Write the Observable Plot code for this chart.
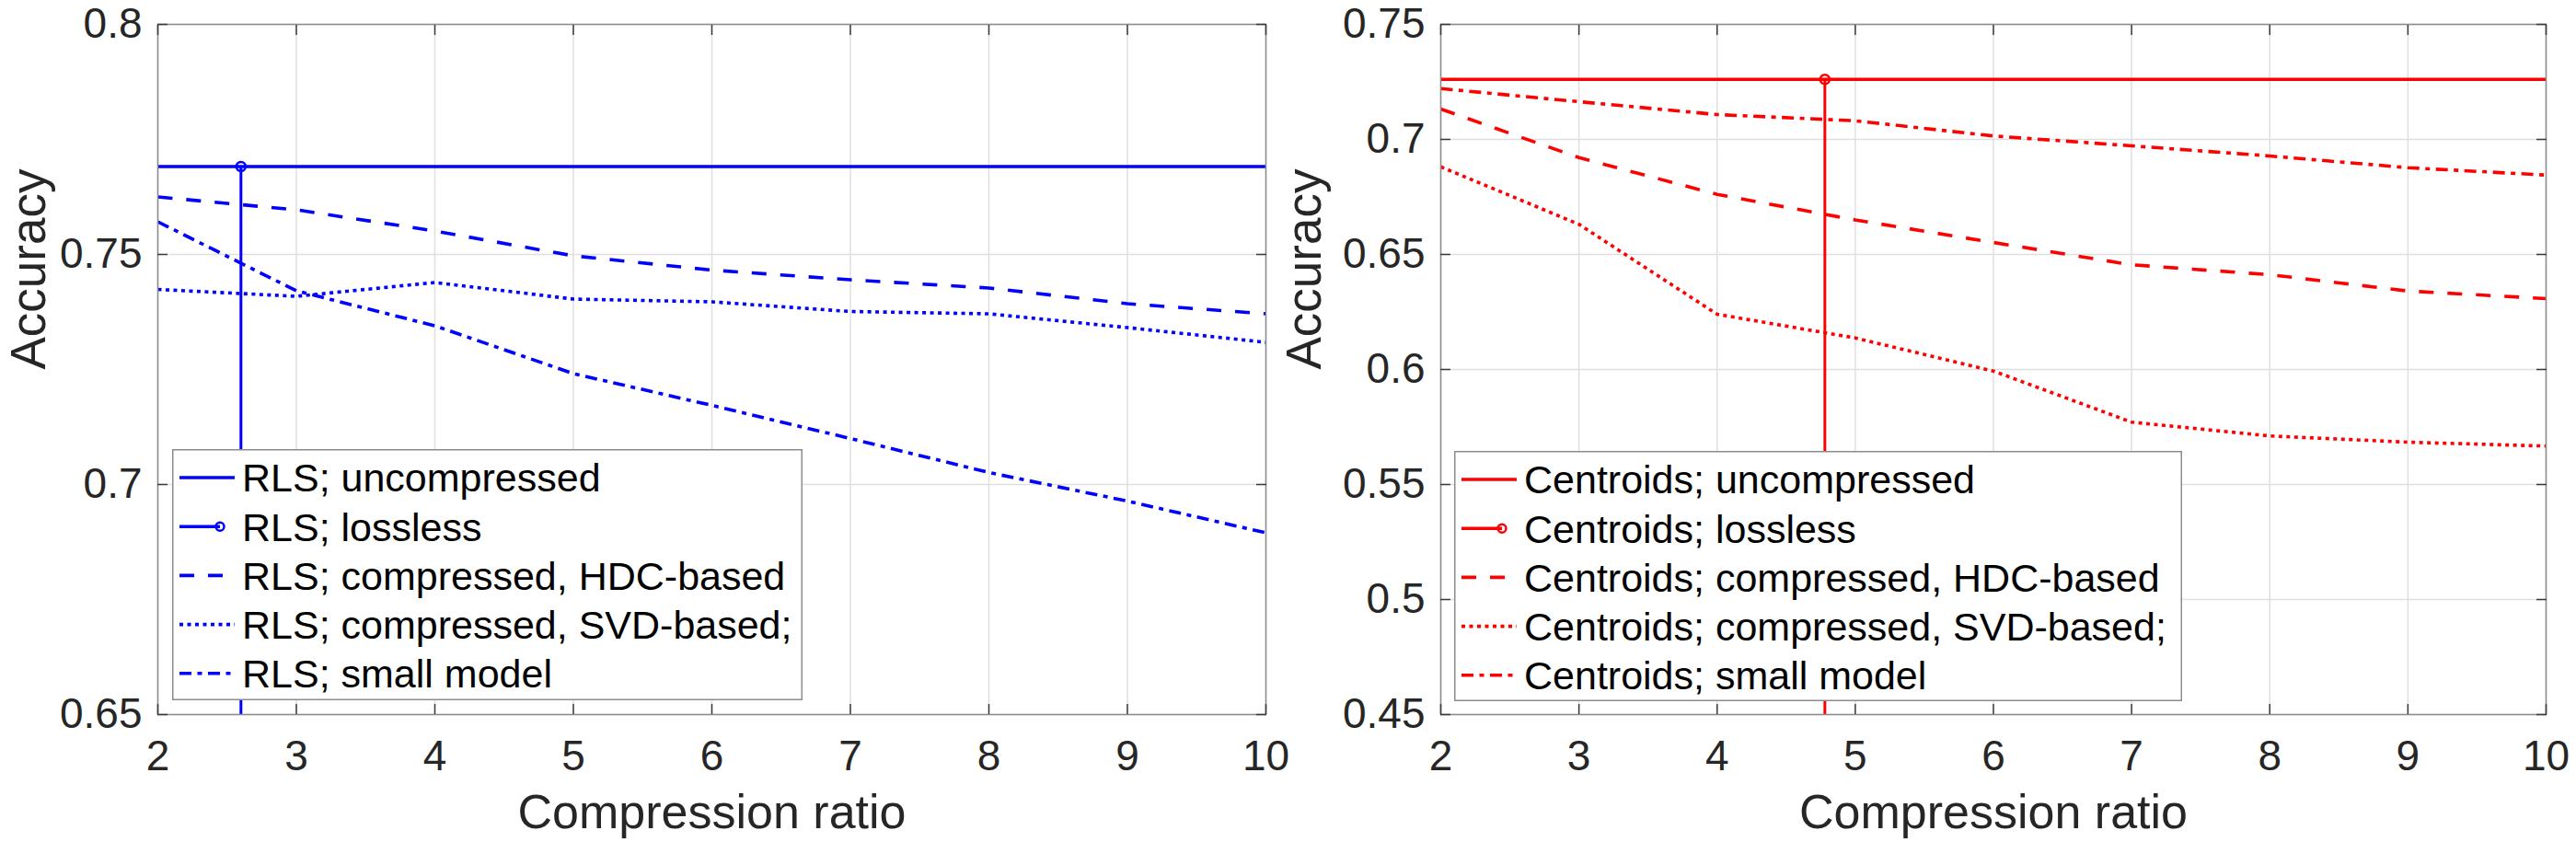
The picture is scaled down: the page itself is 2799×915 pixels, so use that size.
<!DOCTYPE html>
<html>
<head>
<meta charset="utf-8">
<script src="https://cdn.jsdelivr.net/npm/d3@7"></script>
<script src="https://cdn.jsdelivr.net/npm/@observablehq/plot@0.6"></script>
<style>
  html, body { margin: 0; padding: 0; background: white; }
  #wrap { position: relative; width: 2799px; height: 915px; overflow: hidden; }
  .panel { position: absolute; top: 0; }
  .legend { position: absolute; }
</style>
</head>
<body>
<div id="wrap"></div>
<script>
// ---------------- data ----------------
const ratios = [2, 3, 4, 5, 6, 7, 8, 9, 10];

// RLS (left panel)
const rlsUncompressed = 0.7691;
const rlsLosslessRatio = 2.6;
const rlsHDC   = [0.7625, 0.7597, 0.7551, 0.7497, 0.7466, 0.7445, 0.7427, 0.7393, 0.7371];
const rlsSVD   = [0.7424, 0.7409, 0.7439, 0.7403, 0.7397, 0.7376, 0.7371, 0.7341, 0.7309];
const rlsSmall = [0.7571, 0.7421, 0.7345, 0.7241, 0.7172, 0.7100, 0.7026, 0.6964, 0.6895];
const rlsYTicks = [0.65, 0.7, 0.75, 0.8];
const rlsYTickLabels = ["0.65", "0.7", "0.75", "0.8"];
const rlsLabels = ["RLS; uncompressed", "RLS; lossless", "RLS; compressed, HDC-based", "RLS; compressed, SVD-based;", "RLS; small model"];

// Centroids (right panel)
const centUncompressed = 0.7261;
const centLosslessRatio = 4.78;
const centHDC   = [0.7132, 0.6921, 0.6761, 0.6650, 0.6552, 0.6455, 0.6412, 0.6341, 0.6308];
const centSVD   = [0.6881, 0.6631, 0.6240, 0.6137, 0.5993, 0.5771, 0.5711, 0.5684, 0.5667];
const centSmall = [0.7221, 0.7164, 0.7108, 0.7081, 0.7015, 0.6972, 0.6928, 0.6877, 0.6845];
const centYTicks = [0.45, 0.5, 0.55, 0.6, 0.65, 0.7, 0.75];
const centYTickLabels = ["0.45", "0.5", "0.55", "0.6", "0.65", "0.7", "0.75"];
const centLabels = ["Centroids; uncompressed", "Centroids; lossless", "Centroids; compressed, HDC-based", "Centroids; compressed, SVD-based;", "Centroids; small model"];

const xTickLabels = ["2", "3", "4", "5", "6", "7", "8", "9", "10"];
const xLabel = "Compression ratio";
const yLabel = "Accuracy";

// ---------------- styles ----------------
const FONT = "'Liberation Sans', Arial, Helvetica, sans-serif";
const DASH = "16,15";
const DOT = "4,4.5";
const DASHDOT = "13,6.5,5,6.5";
const LW = 3.6;

function panel(opts) {
  const {width, marginLeft, marginRight, color, yTicks, yTickLabels, uncompressed, losslessRatio, hdc, svd, small, yLabelDx} = opts;
  const yDomain = [yTicks[0], yTicks[yTicks.length - 1]];
  const series = (vals) => ratios.map((r, i) => ({ratio: r, acc: vals[i]}));
  const lossless = [{ratio: losslessRatio, acc: uncompressed}];
  const yFmt = (d) => yTickLabels[yTicks.indexOf(d)];
  const xFmt = (d) => xTickLabels[ratios.indexOf(d)];
  const tickColor = "#3a3a3a";
  return Plot.plot({
    width, height: 915,
    marginLeft, marginRight, marginTop: 26, marginBottom: 139,
    style: {fontFamily: FONT, fontSize: "46px", color: "#262626", background: "white", overflow: "visible"},
    x: {domain: [2, 10], label: null},
    y: {domain: yDomain, label: null},
    marks: [
      Plot.gridX(ratios, {stroke: "#dfdfdf", strokeOpacity: 1, strokeWidth: 1.5}),
      Plot.gridY(yTicks, {stroke: "#dfdfdf", strokeOpacity: 1, strokeWidth: 1.5}),
      Plot.ruleY([uncompressed], {stroke: color, strokeWidth: LW}),
      Plot.ruleX(lossless, {x: "ratio", y1: () => yDomain[0], y2: "acc", stroke: color, strokeWidth: 3}),
      Plot.line(series(hdc), {x: "ratio", y: "acc", stroke: color, strokeWidth: LW, strokeDasharray: DASH, strokeLinecap: "butt", strokeLinejoin: "miter"}),
      Plot.line(series(svd), {x: "ratio", y: "acc", stroke: color, strokeWidth: LW, strokeDasharray: DOT, strokeLinecap: "butt", strokeLinejoin: "miter"}),
      Plot.line(series(small), {x: "ratio", y: "acc", stroke: color, strokeWidth: LW, strokeDasharray: DASHDOT, strokeLinecap: "butt", strokeLinejoin: "miter"}),
      Plot.dot(lossless, {x: "ratio", y: "acc", r: 5, stroke: color, strokeWidth: 2.5, fill: "none"}),
      Plot.frame({stroke: "#8c8c8c", strokeWidth: 1.5}),
      // inward ticks on all four sides
      Plot.axisX(ratios, {anchor: "bottom", tickSize: -11, tickFormat: () => "", stroke: tickColor, strokeWidth: 1.5, label: null}),
      Plot.axisX(ratios, {anchor: "top", tickSize: -11, tickFormat: () => "", stroke: tickColor, strokeWidth: 1.5, label: null}),
      Plot.axisY(yTicks, {anchor: "left", tickSize: -11, tickFormat: () => "", stroke: tickColor, strokeWidth: 1.5, label: null}),
      Plot.axisY(yTicks, {anchor: "right", tickSize: -11, tickFormat: () => "", stroke: tickColor, strokeWidth: 1.5, label: null}),
      // tick labels
      Plot.axisX(ratios, {anchor: "bottom", tickSize: 0, tickPadding: 28, tickFormat: xFmt, fontSize: 46, fill: "#262626", label: null}),
      Plot.axisY(yTicks, {anchor: "left", tickSize: 0, tickPadding: 17, tickFormat: yFmt, fontSize: 46, fill: "#262626", label: null}),
      // axis titles
      Plot.text([xLabel], {text: d => d, frameAnchor: "bottom", dy: 107, lineAnchor: "middle", fontSize: 52, fill: "#262626"}),
      Plot.text([yLabel], {text: d => d, frameAnchor: "left", dx: yLabelDx, rotate: -90, lineAnchor: "middle", fontSize: 53, fill: "#262626"})
    ]
  });
}

function legend(labels, color, left, top, width, height) {
  const ns = "http://www.w3.org/2000/svg";
  const svg = document.createElementNS(ns, "svg");
  svg.setAttribute("width", width);
  svg.setAttribute("height", height);
  svg.setAttribute("class", "legend");
  svg.style.left = left + "px";
  svg.style.top = top + "px";
  const rect = document.createElementNS(ns, "rect");
  rect.setAttribute("x", 0.75); rect.setAttribute("y", 0.75);
  rect.setAttribute("width", width - 1.5); rect.setAttribute("height", height - 1.5);
  rect.setAttribute("fill", "white"); rect.setAttribute("stroke", "#8c8c8c"); rect.setAttribute("stroke-width", 1.5);
  svg.appendChild(rect);
  const dashes = [null, null, DASH, DOT, DASHDOT];
  labels.forEach((lab, i) => {
    const cy = 31 + 53.2 * i;
    const ln = document.createElementNS(ns, "line");
    ln.setAttribute("x1", 8); ln.setAttribute("x2", i === 1 ? 52 : 68);
    ln.setAttribute("y1", cy); ln.setAttribute("y2", cy);
    ln.setAttribute("stroke", color); ln.setAttribute("stroke-width", LW);
    if (dashes[i]) ln.setAttribute("stroke-dasharray", dashes[i]);
    svg.appendChild(ln);
    if (i === 1) {
      const c = document.createElementNS(ns, "circle");
      c.setAttribute("cx", 52); c.setAttribute("cy", cy); c.setAttribute("r", 4.5);
      c.setAttribute("fill", "none"); c.setAttribute("stroke", color); c.setAttribute("stroke-width", 2.5);
      svg.appendChild(c);
    }
    const t = document.createElementNS(ns, "text");
    t.setAttribute("x", 76); t.setAttribute("y", cy); t.setAttribute("dy", "0.36em");
    t.setAttribute("font-family", FONT); t.setAttribute("font-size", 43); t.setAttribute("fill", "#000");
    t.textContent = lab;
    svg.appendChild(t);
  });
  return svg;
}

const wrap = document.getElementById("wrap");

const left = panel({width: 1400, marginLeft: 171, marginRight: 25, color: "#0000ff",
  yTicks: rlsYTicks, yTickLabels: rlsYTickLabels, uncompressed: rlsUncompressed, losslessRatio: rlsLosslessRatio,
  hdc: rlsHDC, svd: rlsSVD, small: rlsSmall, yLabelDx: -139});
left.classList.add("panel"); left.style.left = "0px";
wrap.appendChild(left);

const right = panel({width: 1399, marginLeft: 165, marginRight: 33, color: "#ff0000",
  yTicks: centYTicks, yTickLabels: centYTickLabels, uncompressed: centUncompressed, losslessRatio: centLosslessRatio,
  hdc: centHDC, svd: centSVD, small: centSmall, yLabelDx: -147});
right.classList.add("panel"); right.style.left = "1400px";
wrap.appendChild(right);

wrap.appendChild(legend(rlsLabels, "#0000ff", 187, 488, 685, 273));
wrap.appendChild(legend(centLabels, "#ff0000", 1580, 490, 791, 272));
</script>
</body>
</html>
